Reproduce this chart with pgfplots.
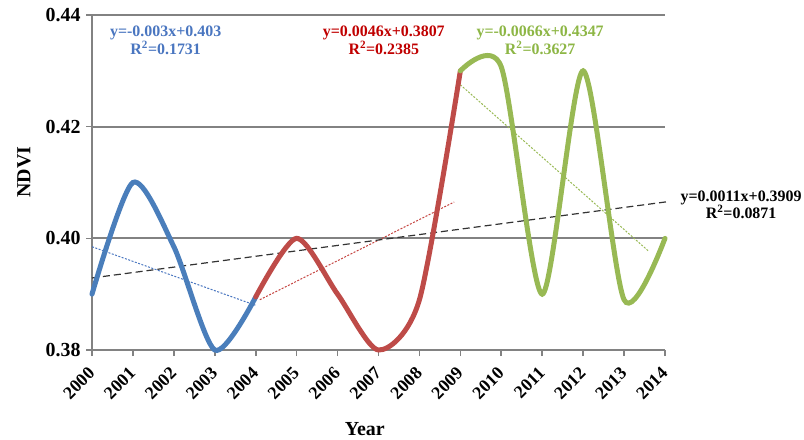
\documentclass[border=0pt]{standalone}
\usepackage{pgfplots}
\pgfplotsset{compat=1.18}
\usepackage{pgfplotstable}
\usepackage{fontspec}
\setmainfont{Liberation Serif}
\definecolor{cblue}{HTML}{4A7EBB}
\definecolor{cred}{HTML}{BE4B48}
\definecolor{cgreen}{HTML}{98B954}
\definecolor{tblue}{HTML}{4A76C0}
\definecolor{tred}{HTML}{C00000}
\definecolor{tgreen}{HTML}{8DB645}
\definecolor{gridc}{HTML}{828282}
\pgfplotstableread{
x y
2000 0.390
2001 0.410
2002 0.3985
2003 0.380
2004 0.3895
}\blueseg
\pgfplotstableread{
x y
2004 0.3895
2005 0.400
2006 0.390
2007 0.380
2008 0.389
2009 0.430
}\redseg
\pgfplotstableread{
x y
2009 0.430
2010 0.4307
2011 0.390
2012 0.430
2013 0.389
2014 0.400
}\greenseg
\begin{document}
\begin{tikzpicture}
\begin{axis}[
  at={(0,0)}, anchor=south west,
  scale only axis, width=573bp, height=335bp,
  xmin=2000, xmax=2014, ymin=0.38, ymax=0.44,
  xtick={2000,2001,...,2014},
  ytick={0.38,0.40,0.42,0.44},
  axis x line*=bottom, axis y line*=left,
  axis line style={gridc, line width=2bp, -},
  tick style={gridc, line width=1.6bp},
  tick align=outside, major tick length=6bp,
  ymajorgrids, grid style={gridc, line width=2bp},
  x tick label style={/pgf/number format/1000 sep={}, xshift=2bp, yshift=-12bp, rotate=45, anchor=east, font=\fontsize{18}{18}\selectfont\bfseries},
  y tick label style={/pgf/number format/.cd, fixed, fixed zerofill, precision=2, /tikz/.cd, xshift=-2bp, font=\fontsize{20}{20}\selectfont\bfseries},
  /pgf/number format/assume math mode=true,
  xlabel={Year}, ylabel={NDVI},
  xlabel style={font=\fontsize{20}{20}\selectfont\bfseries, at={(axis description cs:0.476,-0.236)}, anchor=center},
  ylabel style={font=\fontsize{20}{20}\selectfont\bfseries, at={(axis description cs:-0.1187,0.531)}, anchor=center, rotate=0},
  clip=false,
]
% trend lines
\addplot[tblue, line width=1bp, dash pattern=on 2bp off 1.5bp] coordinates {(2000,0.3985) (2004,0.388)};
\addplot[cred!90!red, line width=1bp, dash pattern=on 2bp off 1.5bp] coordinates {(2004.1,0.3890) (2008.85,0.4065)};
\addplot[cgreen, line width=1bp, dash pattern=on 2bp off 1.5bp] coordinates {(2009,0.4275) (2013.6,0.3977)};
\addplot[black!80, line width=1.2bp, dash pattern=on 7bp off 4bp] coordinates {(2000,0.3929) (2014.1,0.4066)};
% data
\addplot[cblue, line width=5bp, smooth, tension=0.45, line cap=round] table[x=x,y=y] {\blueseg};
\addplot[cred, line width=5bp, smooth, tension=0.45, line cap=round] table[x=x,y=y] {\redseg};
\addplot[cgreen, line width=5bp, smooth, tension=0.45, line cap=round] table[x=x,y=y] {\greenseg};
% equations
\node[tblue, font=\fontsize{16}{18}\selectfont\bfseries, align=center] at (axis cs:2001.8,0.4354) {y=-0.003x+0.403\\R\textsuperscript{2}=0.1731};
\node[tred, font=\fontsize{16}{18}\selectfont\bfseries, align=center] at (axis cs:2007.13,0.4354) {y=0.0046x+0.3807\\R\textsuperscript{2}=0.2385};
\node[tgreen, font=\fontsize{16}{18}\selectfont\bfseries, align=center] at (axis cs:2010.95,0.4354) {y=-0.0066x+0.4347\\R\textsuperscript{2}=0.3627};
\node[black, font=\fontsize{16}{18}\selectfont\bfseries, align=center] at (axis cs:2015.86,0.4060) {y=0.0011x+0.3909\\R\textsuperscript{2}=0.0871};
\end{axis}
\pgfresetboundingbox
\path (-92bp,-90bp) rectangle (712bp,350bp);
\end{tikzpicture}
\end{document}
